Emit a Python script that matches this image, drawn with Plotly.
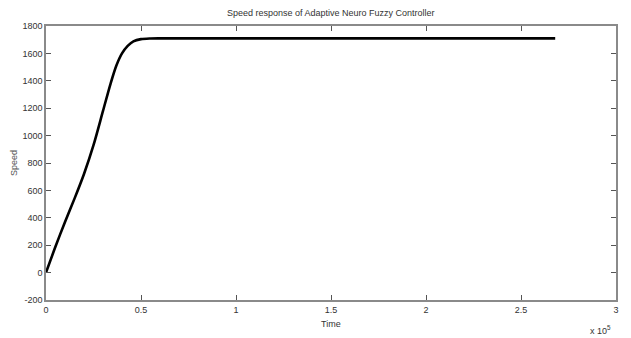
import plotly.graph_objects as go

# Speed response samples (time in seconds, speed in rpm)
time_s = [0, 5000, 10000, 15000, 20000, 25000, 30000, 34000, 37000, 40000,
          43000, 46000, 50000, 55000, 60000, 268000]
speed = [0, 190, 370, 540, 720, 930, 1180, 1380, 1510, 1600,
         1655, 1688, 1704, 1709, 1710, 1710]

x_tick_vals = [0, 50000, 100000, 150000, 200000, 250000, 300000]
x_tick_text = ["0", "0.5", "1", "1.5", "2", "2.5", "3"]
y_tick_vals = [-200, 0, 200, 400, 600, 800, 1000, 1200, 1400, 1600, 1800]
y_tick_text = ["-200", "0", "200", "400", "600", "800", "1000", "1200",
               "1400", "1600", "1800"]

FONT = "Liberation Sans, Arial, sans-serif"
TXT = "#333333"

fig = go.Figure()
fig.add_trace(go.Scatter(
    x=time_s, y=speed, mode="lines",
    line=dict(color="black", width=2.6, shape="spline", smoothing=0.8),
    hoverinfo="skip", showlegend=False,
))

axis_common = dict(
    showgrid=False, zeroline=False,
    showline=True, linecolor="#8a8a8a", linewidth=1.5,
    mirror="ticks", ticks="inside", ticklen=5, tickwidth=1,
    tickcolor="#555555",
    tickfont=dict(family=FONT, size=9, color=TXT),
)

fig.update_xaxes(range=[0, 300000], tickvals=x_tick_vals,
                 ticktext=x_tick_text, **axis_common)
fig.update_yaxes(range=[-200, 1800], tickvals=y_tick_vals,
                 ticktext=y_tick_text, **axis_common)

fig.update_layout(
    width=631, height=338,
    margin=dict(l=46, r=15, t=26, b=38),
    paper_bgcolor="white", plot_bgcolor="white",
    annotations=[
        dict(text="Speed response of Adaptive Neuro Fuzzy Controller",
             x=0.5, y=1, xref="paper", yref="paper", xanchor="center",
             yanchor="bottom", yshift=6, showarrow=False,
             font=dict(family=FONT, size=9, color=TXT)),
        dict(text="Time", x=0.5, y=0, xref="paper", yref="paper",
             xanchor="center", yanchor="top", yshift=-17, showarrow=False,
             font=dict(family=FONT, size=9, color=TXT)),
        dict(text="Speed", x=0, y=0.5, xref="paper", yref="paper",
             xanchor="center", yanchor="middle", xshift=-32, textangle=-90,
             showarrow=False, font=dict(family=FONT, size=9, color="#555555")),
        dict(text="x 10<sup>5</sup>", x=1, y=0, xref="paper", yref="paper",
             xanchor="right", yanchor="top", yshift=-22, xshift=-3,
             showarrow=False, font=dict(family=FONT, size=9, color=TXT)),
    ],
)

fig.write_html("out.html")
